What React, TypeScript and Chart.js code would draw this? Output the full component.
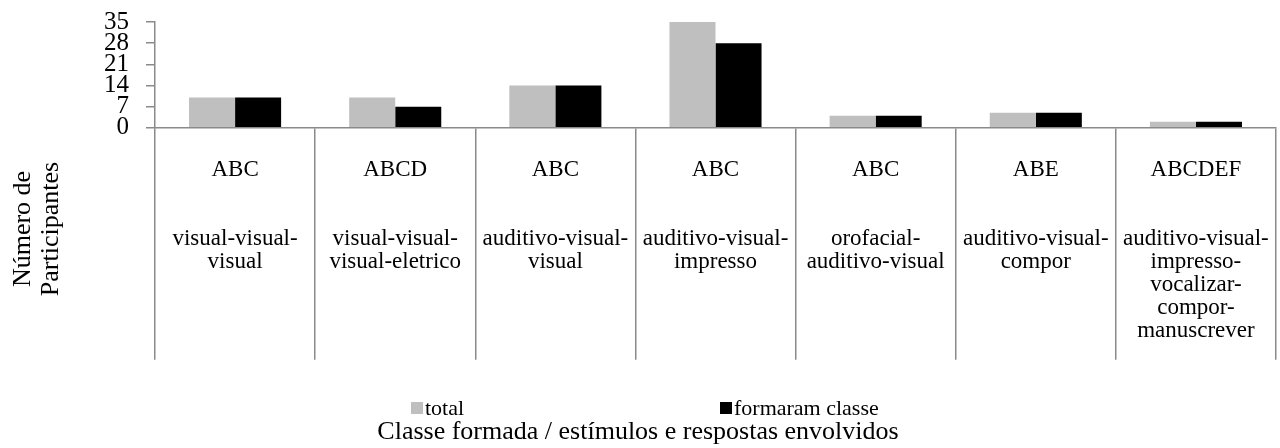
import React, { useEffect, useRef } from "react";
import { Chart, registerables } from "chart.js";

Chart.register(...registerables);

const classes = ["ABC", "ABCD", "ABC", "ABC", "ABC", "ABE", "ABCDEF"];
const stimuli = [
  ["visual-visual-", "visual"],
  ["visual-visual-", "visual-eletrico"],
  ["auditivo-visual-", "visual"],
  ["auditivo-visual-", "impresso"],
  ["orofacial-", "auditivo-visual"],
  ["auditivo-visual-", "compor"],
  ["auditivo-visual-", "impresso-", "vocalizar-", "compor-", "manuscrever"],
];
const totalValues = [10, 10, 14, 35, 4, 5, 2];
const formaramValues = [10, 7, 14, 28, 4, 5, 2];
const seriesNames = ["total", "formaram classe"];
const yTicks = [0, 7, 14, 21, 28, 35];
const yTitleLines = ["Número de", "Participantes"];
const xTitle = "Classe formada / estímulos e respostas envolvidos";

const SERIF = "'Liberation Serif', 'Times New Roman', serif";
const GRAY = "#bfbfbf";
const AXIS = "#8a8a8a";

const extrasPlugin = {
  id: "extras",
  afterDraw(chart: any) {
    const ctx = chart.ctx;
    ctx.save();
    // y-axis title (two rotated lines)
    ctx.fillStyle = "#000";
    ctx.font = `26px ${SERIF}`;
    ctx.textAlign = "center";
    ctx.textBaseline = "middle";
    const cy = 229;
    const xs = [23, 51];
    yTitleLines.forEach((t, i) => {
      ctx.save();
      ctx.translate(xs[i], cy);
      ctx.rotate(-Math.PI / 2);
      ctx.fillText(t, 0, 0);
      ctx.restore();
    });
    // legend
    const ly = 408;
    const items = [
      { x: 411, color: GRAY, text: seriesNames[0] },
      { x: 720, color: "#000", text: seriesNames[1] },
    ];
    ctx.font = `22px ${SERIF}`;
    ctx.textAlign = "left";
    items.forEach((it) => {
      ctx.fillStyle = it.color;
      ctx.fillRect(it.x, ly - 6, 12, 12);
      ctx.fillStyle = "#000";
      ctx.fillText(it.text, it.x + 14, ly + 1);
    });
    ctx.restore();
  },
};

export default function App() {
  const ref = useRef<HTMLCanvasElement | null>(null);
  useEffect(() => {
    document.body.style.margin = "0";
    const labels = classes.map((c, i) => [c, "", "", ...stimuli[i]]);
    const chart = new Chart(ref.current as HTMLCanvasElement, {
      type: "bar",
      data: {
        labels,
        datasets: [
          {
            label: seriesNames[0],
            data: totalValues,
            backgroundColor: GRAY,
            categoryPercentage: 0.575,
            barPercentage: 1,
          },
          {
            label: seriesNames[1],
            data: formaramValues,
            backgroundColor: "#000",
            categoryPercentage: 0.575,
            barPercentage: 1,
          },
        ],
      },
      options: {
        animation: false,
        responsive: true,
        maintainAspectRatio: false,
        layout: { padding: { top: 22, right: 4, left: 0, bottom: 0 } },
        plugins: {
          legend: { display: false },
          tooltip: { enabled: false },
          title: {
            display: true,
            position: "bottom",
            text: xTitle,
            color: "#000",
            font: { family: SERIF, size: 26, weight: "normal", lineHeight: 1.2 },
            padding: { top: 0, bottom: 0 },
          },
        },
        scales: {
          x: {
            offset: true,
            grid: {
              offset: true,
              drawOnChartArea: false,
              drawTicks: true,
              tickLength: 232,
              color: AXIS,
              lineWidth: 1.5,
            },
            border: { display: true, color: AXIS, width: 1.5 },
            ticks: {
              color: "#000",
              font: { family: SERIF, size: 23, lineHeight: "23px" },
              padding: -201,
              maxRotation: 0,
              minRotation: 0,
              autoSkip: false,
            },
            afterFit: (scale: any) => {
              scale.height = 289;
            },
          },
          y: {
            min: 0,
            max: 35,
            afterBuildTicks: (scale: any) => {
              scale.ticks = yTicks.map((v) => ({ value: v }));
            },
            grid: {
              drawOnChartArea: false,
              drawTicks: true,
              tickLength: 9,
              color: AXIS,
              lineWidth: 1.5,
            },
            border: { display: true, color: AXIS, width: 1.5 },
            ticks: {
              color: "#000",
              font: { family: SERIF, size: 25, lineHeight: 1 },
              padding: 17,
              autoSkip: false,
            },
            afterFit: (scale: any) => {
              scale.width = 155;
              scale.paddingTop = 0;
              scale.paddingBottom = 0;
            },
          },
        },
      },
      plugins: [extrasPlugin],
    });
    return () => chart.destroy();
  }, []);
  return (
    <div style={{ position: "relative", width: "1280px", height: "448px" }}>
      <canvas ref={ref} />
    </div>
  );
}
